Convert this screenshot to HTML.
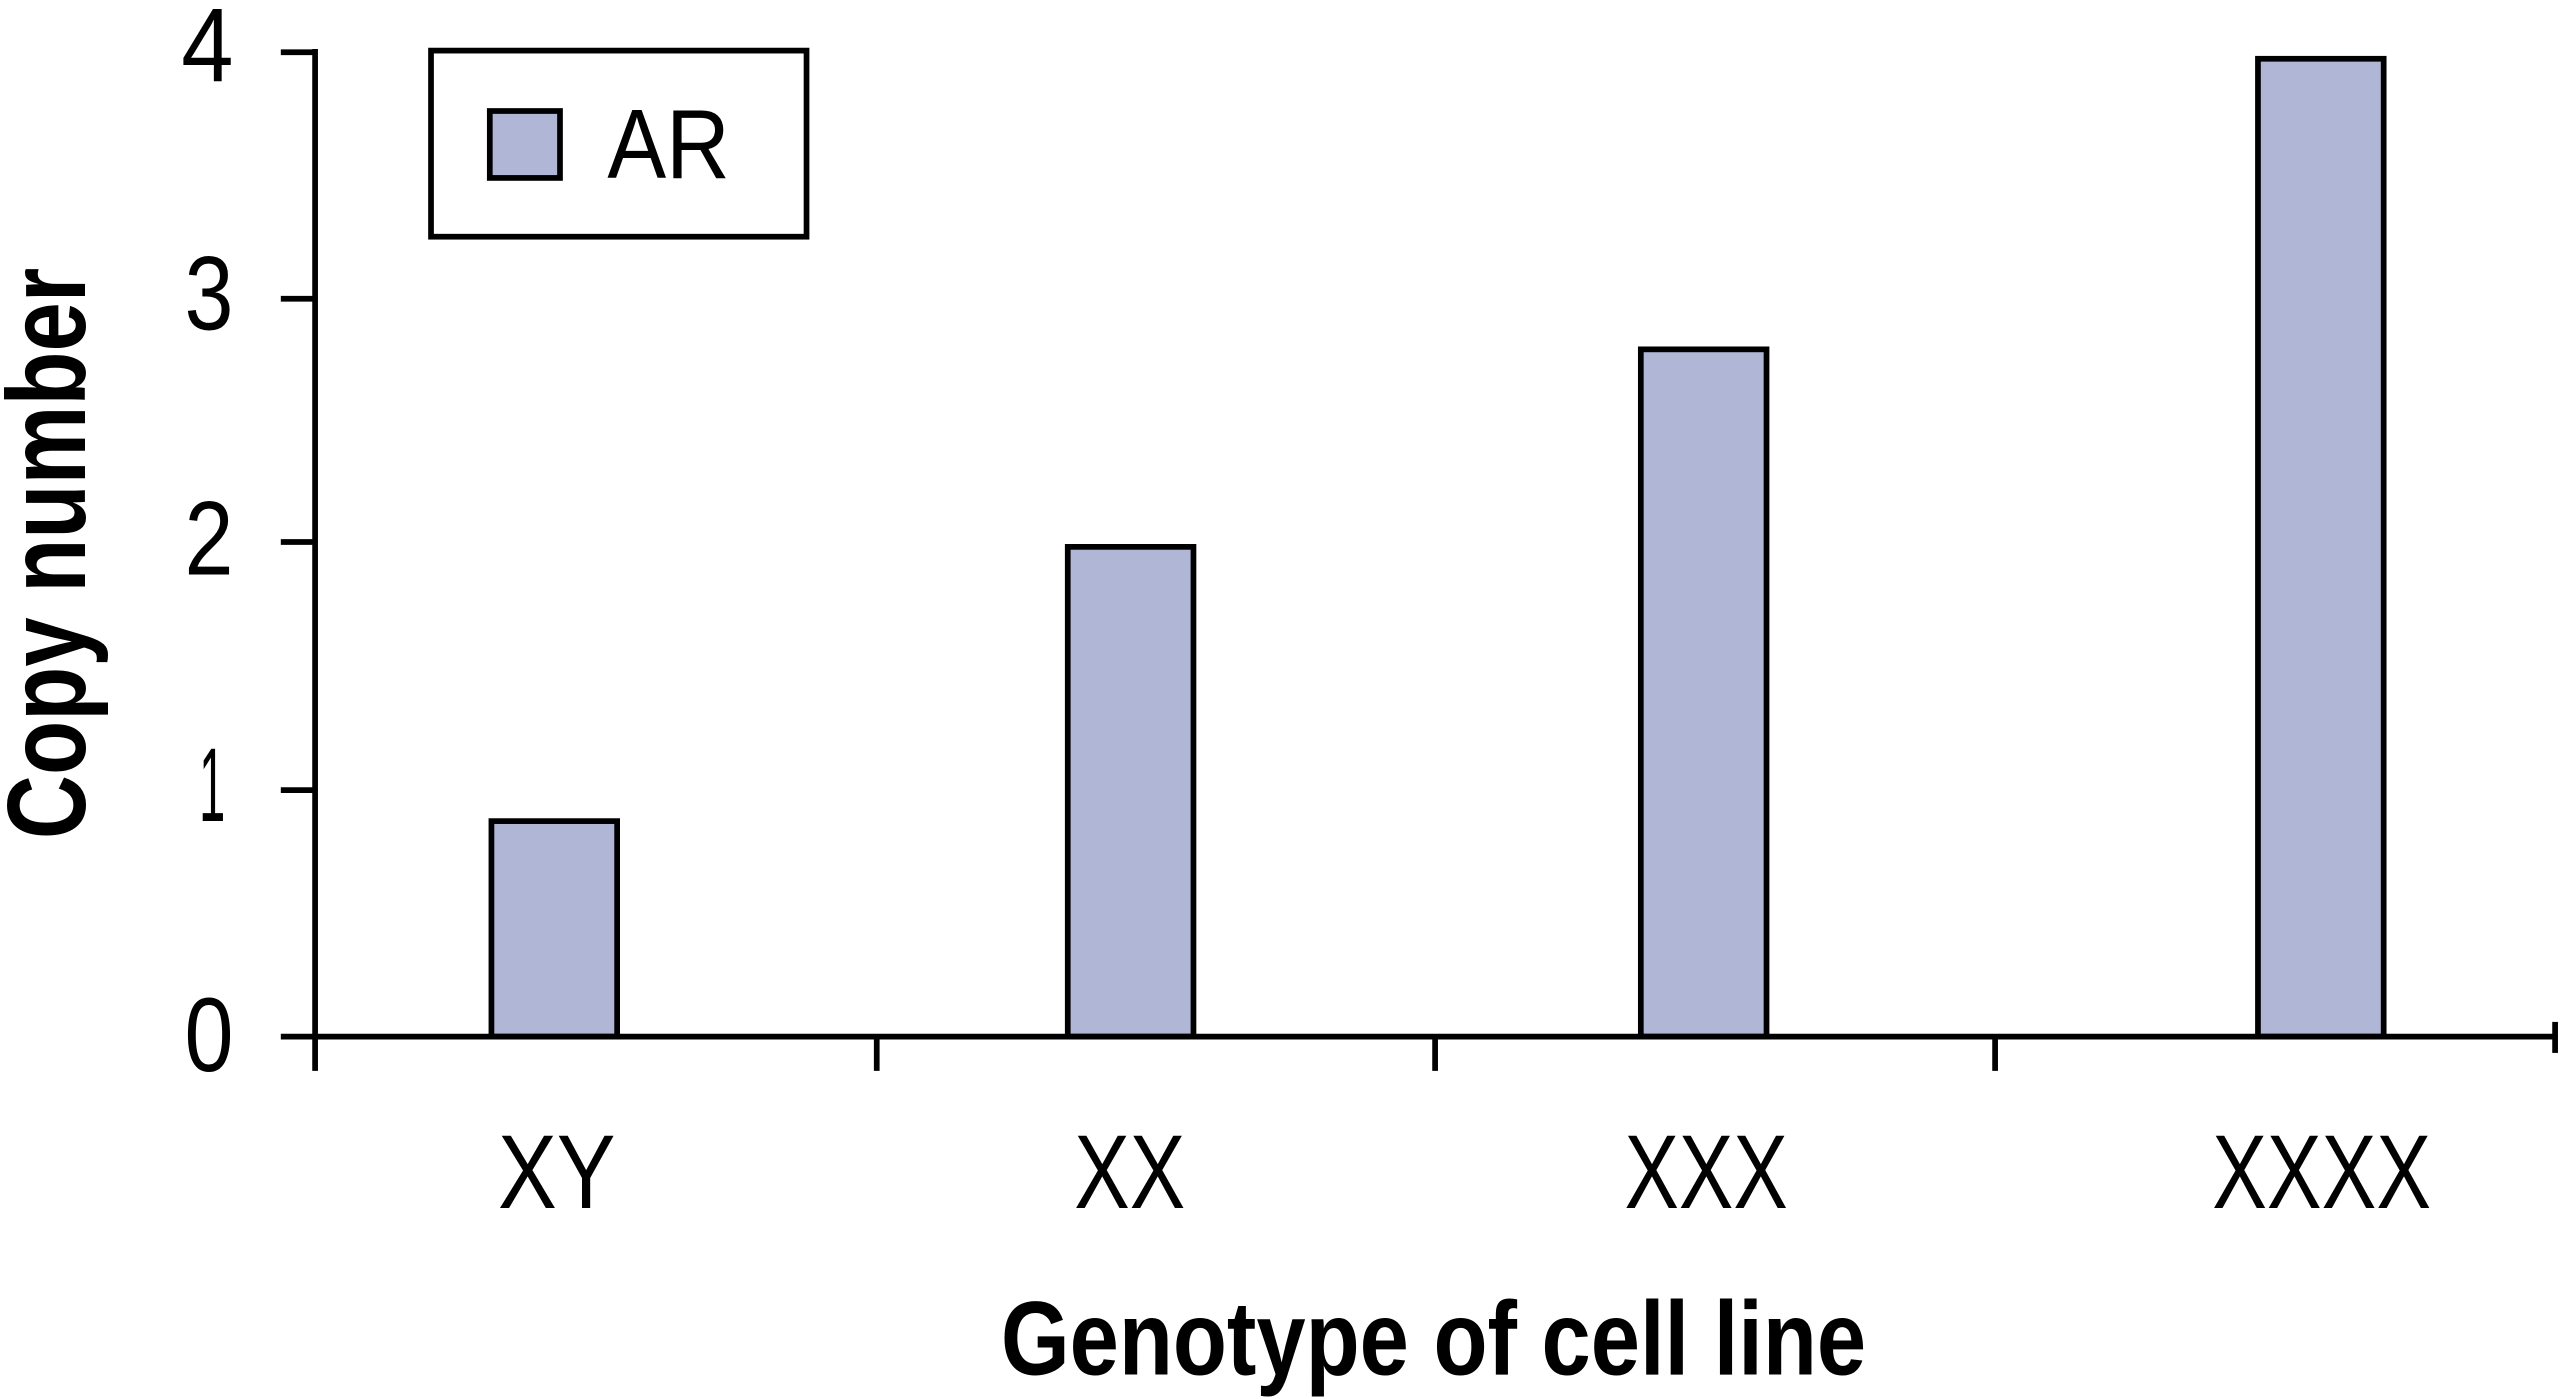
<!DOCTYPE html>
<html><head><meta charset="utf-8"><style>html,body{margin:0;padding:0;background:#fff}svg{display:block}</style></head>
<body>
<svg width="2560" height="1399" viewBox="0 0 1568 857" preserveAspectRatio="none" xmlns="http://www.w3.org/2000/svg">
<g stroke="#000" stroke-width="3.5" fill="#b0b6d6">
<rect x="301" y="503" width="77" height="132"/>
<rect x="654" y="335" width="77" height="300"/>
<rect x="1005" y="214" width="77" height="421"/>
<rect x="1383" y="36" width="77" height="599"/>
</g>
<g stroke="#000" stroke-width="3.5" fill="none">
<line x1="193" y1="30" x2="193" y2="656"/>
<line x1="172" y1="635" x2="1565" y2="635"/>
<line x1="172" y1="32" x2="193" y2="32"/>
<line x1="172" y1="183" x2="193" y2="183"/>
<line x1="172" y1="332" x2="193" y2="332"/>
<line x1="172" y1="484" x2="193" y2="484"/>
<line x1="537" y1="635" x2="537" y2="656"/>
<line x1="879" y1="635" x2="879" y2="656"/>
<line x1="1222" y1="635" x2="1222" y2="656"/>
<line x1="1565" y1="626" x2="1565" y2="645"/>
<rect x="264" y="31" width="230" height="114"/>
</g>
<rect x="300" y="68" width="43" height="41" fill="#b0b6d6" stroke="#000" stroke-width="3.5"/>
<g font-family="Liberation Sans, sans-serif" fill="#000">
<text x="372" y="109" font-size="60" textLength="75" lengthAdjust="spacingAndGlyphs">AR</text>
<g font-size="64" text-anchor="end">
<text x="143" y="50" textLength="32" lengthAdjust="spacingAndGlyphs">4</text>
<text x="143" y="202" textLength="30" lengthAdjust="spacingAndGlyphs">3</text>
<text x="143" y="352" textLength="30" lengthAdjust="spacingAndGlyphs">2</text>
<text x="138" y="503" textLength="16" lengthAdjust="spacingAndGlyphs">1</text>
<text x="143" y="656" textLength="30" lengthAdjust="spacingAndGlyphs">0</text>
</g>
<g font-size="64" text-anchor="middle">
<text x="341" y="740" textLength="72" lengthAdjust="spacingAndGlyphs">XY</text>
<text x="692" y="740" textLength="68" lengthAdjust="spacingAndGlyphs">XX</text>
<text x="1045" y="740" textLength="100" lengthAdjust="spacingAndGlyphs">XXX</text>
<text x="1422" y="740" textLength="134" lengthAdjust="spacingAndGlyphs">XXXX</text>
</g>
<text x="878" y="842" font-size="64" font-weight="bold" text-anchor="middle" textLength="530" lengthAdjust="spacingAndGlyphs">Genotype of cell line</text>
<text transform="translate(52,339) rotate(-90)" font-size="68" font-weight="bold" text-anchor="middle" textLength="350" lengthAdjust="spacingAndGlyphs">Copy number</text>
</g>
</svg>
</body></html>
